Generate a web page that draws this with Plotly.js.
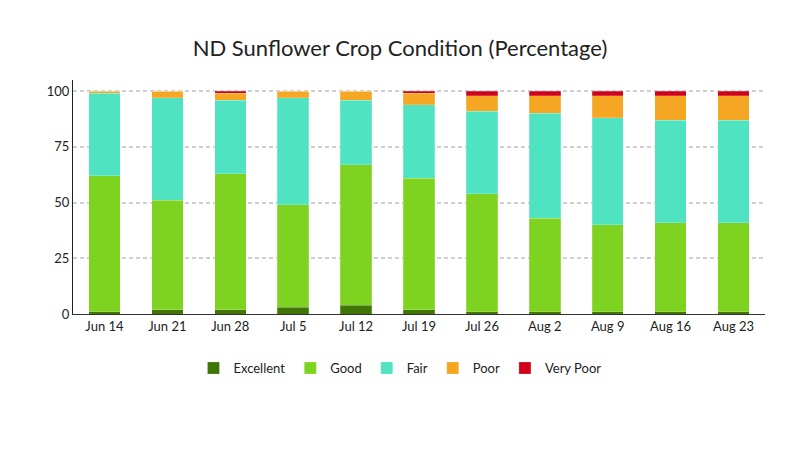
<!DOCTYPE html>
<html>
<head>
<meta charset="utf-8">
<script src="https://cdn.plot.ly/plotly-3.0.1.min.js"></script>
<style>
  html, body { margin: 0; padding: 0; background: #fff; }
  #chart { width: 800px; height: 450px; }
</style>
</head>
<body>
<div id="chart"></div>
<script>
const weeks = ['Jun 14', 'Jun 21', 'Jun 28', 'Jul 5', 'Jul 12', 'Jul 19', 'Jul 26', 'Aug 2', 'Aug 9', 'Aug 16', 'Aug 23'];
const excellent = [1, 2, 2, 3, 4, 2, 1, 1, 1, 1, 1];
const good      = [61, 49, 61, 46, 63, 59, 53, 42, 39, 40, 40];
const fair      = [37, 46, 33, 48, 29, 33, 37, 47, 48, 46, 46];
const poor      = [1, 3, 3, 3, 4, 5, 7, 8, 10, 11, 11];
const veryPoor  = [0, 0, 1, 0, 0, 1, 2, 2, 2, 2, 2];

const series = [
    { name: 'Excellent', y: excellent, color: '#417505' },
    { name: 'Good', y: good, color: '#7ed321' },
    { name: 'Fair', y: fair, color: '#50e3c2' },
    { name: 'Poor', y: poor, color: '#f5a623' },
    { name: 'Very Poor', y: veryPoor, color: '#d0021b' }
];

const data = series.map(s => ({
    type: 'bar',
    x: weeks,
    y: s.y,
    name: s.name,
    marker: { color: s.color, line: { color: 'rgba(255,255,255,0.4)', width: 0.5 } },
    hoverinfo: 'name+y'
}));

const layout = {
    barmode: 'stack',
    bargap: 0.5,
    width: 800,
    height: 450,
    margin: { l: 73, r: 35, t: 80, b: 136 },
    paper_bgcolor: '#fff',
    plot_bgcolor: '#fff',
    font: { family: 'Lato, sans-serif', size: 13, color: '#222' },
    title: {
        text: 'ND Sunflower Crop Condition (Percentage)',
        font: { family: 'Lato, sans-serif', size: 22, color: '#222' },
        x: 0.5,
        xanchor: 'center',
        y: 0.893,
        yanchor: 'middle'
    },
    xaxis: {
        type: 'category',
        showline: true,
        linecolor: '#333',
        linewidth: 1,
        ticks: '',
        tickangle: 0,
        showgrid: false,
        automargin: false,
        tickfont: { size: 13, color: '#222' }
    },
    yaxis: {
        range: [0, 105],
        tickvals: [0, 25, 50, 75, 100],
        showline: true,
        linecolor: '#222',
        linewidth: 1,
        ticks: '',
        showgrid: true,
        gridcolor: '#cfcfcf',
        gridwidth: 1.5,
        griddash: '4px,3px',
        zeroline: false,
        automargin: false,
        tickfont: { size: 13, color: '#222' }
    },
    legend: {
        orientation: 'h',
        traceorder: 'normal',
        x: 0.4725,
        xanchor: 'center',
        y: -0.231,
        yanchor: 'middle',
        font: { size: 13, color: '#222' }
    },
    showlegend: true
};

Plotly.newPlot('chart', data, layout, { displayModeBar: false });
</script>
</body>
</html>
